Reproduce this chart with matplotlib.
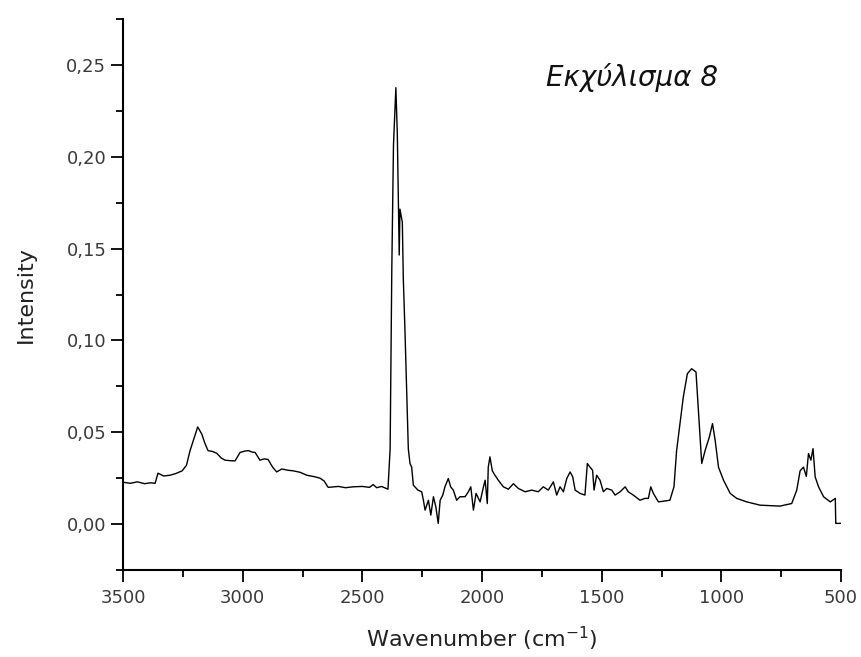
import matplotlib
matplotlib.use("Agg")
import matplotlib.pyplot as plt
from matplotlib.ticker import MultipleLocator, FuncFormatter

plt.rcParams['font.family'] = ['DejaVu Sans']
plt.rcParams['mathtext.fontset'] = 'dejavusans'

# ==========================================
# 数据
# ==========================================
wavenumber = [
    3500, 3470, 3440, 3410, 3385, 3366, 3354, 3330, 3304, 3280, 3253, 3235,
    3220, 3205, 3188, 3171, 3158, 3145, 3125, 3108, 3090, 3074, 3050, 3032,
    3011, 2990, 2976, 2960, 2948, 2928, 2910, 2894, 2875, 2858, 2837, 2810,
    2789, 2760, 2732, 2700, 2677, 2660, 2643, 2600, 2570, 2539, 2500, 2470,
    2455, 2440, 2420, 2393, 2384, 2377, 2370, 2360, 2354, 2346, 2343, 2333,
    2329, 2322, 2315, 2308, 2301, 2294, 2287, 2268, 2252, 2245, 2238, 2224,
    2214, 2203, 2193, 2183, 2175, 2164, 2155, 2141, 2131, 2120, 2106, 2092,
    2071, 2057, 2047, 2036, 2025, 2008, 1994, 1987, 1978, 1974, 1967, 1957,
    1946, 1932, 1911, 1890, 1869, 1848, 1820, 1792, 1765, 1744, 1723, 1702,
    1688, 1674, 1660, 1646, 1632, 1621, 1611, 1590, 1570, 1560, 1549, 1538,
    1532, 1521, 1507, 1493, 1479, 1458, 1444, 1423, 1402, 1389, 1368, 1340,
    1319, 1305, 1295, 1284, 1263, 1240, 1215, 1198, 1187, 1173, 1159, 1142,
    1124, 1106, 1096, 1082, 1068, 1050, 1037, 1026, 1012, 991, 963, 936,
    894, 838, 755, 706, 685, 671, 657, 645, 636, 626, 617, 608,
    594, 573, 545, 524, 522, 500,
]
intensity = [
    0.0228, 0.0222, 0.0230, 0.0220, 0.0225, 0.0222, 0.0277, 0.0262, 0.0266, 0.0275, 0.0290, 0.0320,
    0.0400, 0.0460, 0.0529, 0.0490, 0.0440, 0.0400, 0.0395, 0.0385, 0.0360, 0.0348, 0.0345, 0.0344,
    0.0390, 0.0398, 0.0400, 0.0392, 0.0390, 0.0348, 0.0355, 0.0352, 0.0310, 0.0284, 0.0300, 0.0293,
    0.0290, 0.0282, 0.0266, 0.0258, 0.0250, 0.0235, 0.0200, 0.0205, 0.0198, 0.0203, 0.0205, 0.0200,
    0.0215, 0.0198, 0.0205, 0.0190, 0.0410, 0.1390, 0.2063, 0.2376, 0.2126, 0.1465, 0.1715, 0.1643,
    0.1340, 0.1054, 0.0732, 0.0410, 0.0330, 0.0310, 0.0212, 0.0185, 0.0176, 0.0130, 0.0076, 0.0130,
    0.0049, 0.0149, 0.0094, 0.0004, 0.0130, 0.0158, 0.0203, 0.0248, 0.0203, 0.0185, 0.0130, 0.0149,
    0.0149, 0.0176, 0.0203, 0.0076, 0.0167, 0.0121, 0.0203, 0.0239, 0.0112, 0.0310, 0.0366, 0.0290,
    0.0266, 0.0239, 0.0203, 0.0190, 0.0220, 0.0194, 0.0176, 0.0185, 0.0176, 0.0203, 0.0185, 0.0230,
    0.0158, 0.0203, 0.0176, 0.0248, 0.0284, 0.0257, 0.0185, 0.0167, 0.0158, 0.0330, 0.0310, 0.0293,
    0.0185, 0.0266, 0.0239, 0.0176, 0.0194, 0.0185, 0.0158, 0.0176, 0.0203, 0.0176, 0.0158, 0.0130,
    0.0140, 0.0140, 0.0203, 0.0167, 0.0121, 0.0125, 0.0130, 0.0203, 0.0400, 0.0547, 0.0692, 0.0819,
    0.0846, 0.0828, 0.0620, 0.0330, 0.0400, 0.0475, 0.0547, 0.0457, 0.0310, 0.0239, 0.0167, 0.0140,
    0.0121, 0.0103, 0.0098, 0.0112, 0.0185, 0.0290, 0.0310, 0.0260, 0.0384, 0.0348, 0.0411, 0.0257,
    0.0203, 0.0149, 0.0121, 0.0140, 0.0004, 0.0004,
]

# ==========================================
# 绘图
# ==========================================
fig = plt.figure(figsize=(8.61, 6.57), dpi=100)
ax = fig.add_axes([0.1429, 0.1324, 0.8339, 0.8387])

ax.plot(wavenumber, intensity, color='black', linewidth=1.0)

ax.set_xlim(3500, 500)
ax.set_ylim(-0.025, 0.275)

ax.spines['top'].set_visible(False)
ax.spines['right'].set_visible(False)
ax.spines['left'].set_linewidth(1.5)
ax.spines['bottom'].set_linewidth(1.5)

ax.xaxis.set_major_locator(MultipleLocator(500))
ax.xaxis.set_minor_locator(MultipleLocator(250))
ax.yaxis.set_major_locator(MultipleLocator(0.05))
ax.yaxis.set_minor_locator(MultipleLocator(0.025))
ax.yaxis.set_major_formatter(FuncFormatter(lambda v, p: f"{v:.2f}".replace('.', ',')))

ax.tick_params(which='major', direction='out', length=8.5, width=1.3,
               labelsize=13, labelcolor='#3a3a3a')
ax.tick_params(axis='x', which='major', pad=5)
ax.tick_params(axis='y', which='major', pad=3.5)
ax.tick_params(which='minor', direction='out', length=5, width=1.3)

ax.set_xlabel('Wavenumber (cm$^{-1}$)', fontsize=16, color='#222222', labelpad=13)
ax.set_ylabel('Intensity', fontsize=16, color='#222222', labelpad=22)

ax.text(0.709, 0.893, 'Εκχύλισμα 8', transform=ax.transAxes,
        fontsize=20, style='italic', ha='center', va='center', color='#111111')

fig.savefig('out.png', dpi=100)
